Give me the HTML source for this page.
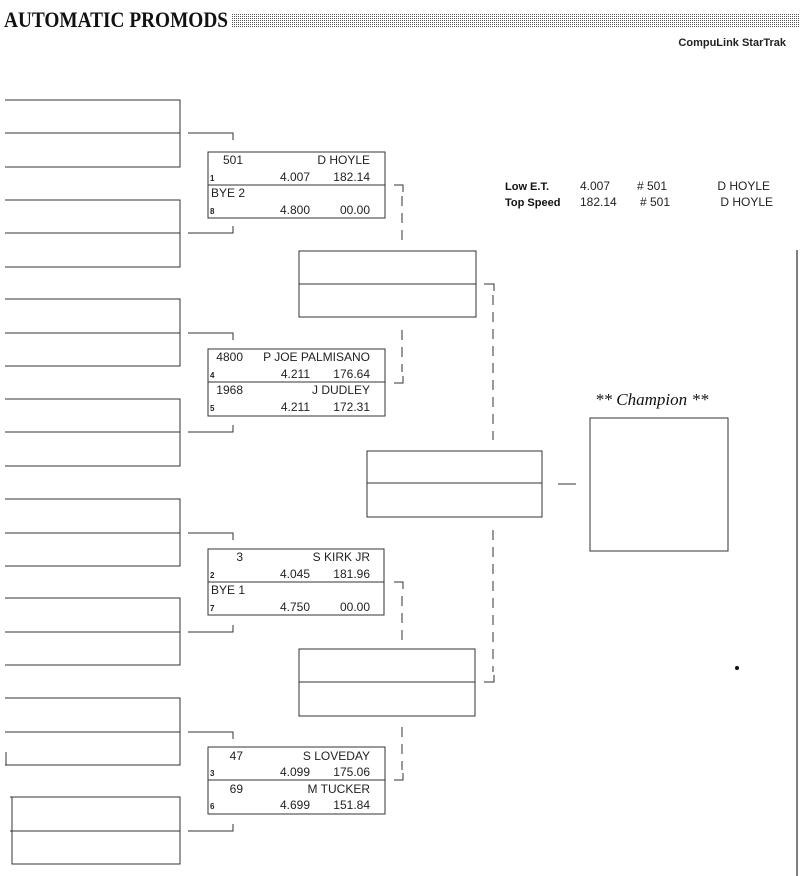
<!DOCTYPE html>
<html><head><meta charset="utf-8"><style>
html,body{margin:0;padding:0;background:#fff;}
svg{display:block;}
.m{font-family:"Liberation Sans",sans-serif;font-size:12px;fill:#222;}
.s{font-family:"Liberation Sans",sans-serif;font-size:8px;font-weight:bold;fill:#222;}
</style></head><body>
<svg width="800" height="876" viewBox="0 0 800 876" xmlns="http://www.w3.org/2000/svg">
<defs>
<pattern id="dots" width="2" height="2" patternUnits="userSpaceOnUse"><rect width="1" height="1" fill="#555"/></pattern>
</defs>
<text x="4" y="27" font-family="Liberation Serif,serif" font-weight="bold" font-size="22" textLength="224" lengthAdjust="spacingAndGlyphs" fill="#111">AUTOMATIC PROMODS</text>
<rect x="231" y="14" width="569" height="14" fill="url(#dots)"/>
<text x="786" y="46" text-anchor="end" font-family="Liberation Sans,sans-serif" font-weight="bold" font-size="11" fill="#222">CompuLink StarTrak</text>
<line x1="797" y1="250" x2="797" y2="876" stroke="#555" stroke-width="1.5"/>

<g stroke="#333" stroke-width="1" fill="none">
<path d="M5 100H180V167H5M5 133H180"/>
<path d="M5 200H180V267H5M5 233H180"/>
<path d="M5 299H180V366H5M5 333H180"/>
<path d="M5 399H180V466H5M5 432H180"/>
<path d="M5 499H180V566H5M5 533H180"/>
<path d="M5 598H180V665H5M5 632H180"/>
<path d="M5 698H180V765H5M5 732H180M6 752V765"/>
<path d="M10 797H180V864H12V797M10 831H180"/>
<path d="M188 133H233V140M188 233H233V226"/>
<path d="M188 333H233V340M188 432H233V425"/>
<path d="M188 533H233V540M188 632H233V625"/>
<path d="M188 732H233V739M188 831H233V824"/>
<rect x="208" y="152" width="177" height="66"/><line x1="208" y1="185" x2="385" y2="185"/>
<rect x="208" y="349" width="177" height="67"/><line x1="208" y1="382" x2="385" y2="382"/>
<rect x="208" y="549" width="176" height="66"/><line x1="208" y1="582" x2="384" y2="582"/>
<rect x="208" y="747" width="177" height="67"/><line x1="208" y1="780" x2="385" y2="780"/>
<rect x="299" y="251" width="177" height="66"/><line x1="299" y1="284" x2="476" y2="284"/>
<rect x="299" y="649" width="176" height="67"/><line x1="299" y1="682" x2="475" y2="682"/>
<rect x="367" y="451" width="175" height="66"/><line x1="367" y1="483" x2="542" y2="483"/>
<line x1="558" y1="484" x2="576" y2="484"/>
<rect x="590" y="418" width="138" height="133"/>
<path d="M394 185H403V192M394 383H403V376M394 582H403V589M394 780H403V773M484 284H494V291M484 682H494V675"/>
<g stroke-dasharray="10,7">
<path d="M402 196V242M402 330V372M402 596V640M402 727V770M493 295V440M493 530V672"/>
</g>
</g>

<text x="505" y="190" font-family="Liberation Sans,sans-serif" font-weight="bold" font-size="11" fill="#111">Low  E.T.</text>
<text x="505" y="206" font-family="Liberation Sans,sans-serif" font-weight="bold" font-size="11" fill="#111">Top Speed</text>
<g class="m">
<text x="580" y="190">4.007</text><text x="637" y="190"># 501</text><text x="770" y="190" text-anchor="end">D HOYLE</text>
<text x="580" y="206">182.14</text><text x="640" y="206"># 501</text><text x="773" y="206" text-anchor="end">D HOYLE</text>
</g>
<text x="595" y="405" font-family="Liberation Serif,serif" font-style="italic" font-size="17" fill="#111">** Champion **</text>

<g class="m">
<text x="243" y="164" text-anchor="end">501</text><text x="370" y="164" text-anchor="end">D HOYLE</text>
<text x="310" y="181" text-anchor="end">4.007</text><text x="370" y="181" text-anchor="end">182.14</text>
<text x="211" y="197">BYE 2</text>
<text x="310" y="214" text-anchor="end">4.800</text><text x="370" y="214" text-anchor="end">00.00</text>

<text x="243" y="361" text-anchor="end">4800</text><text x="370" y="361" text-anchor="end">P JOE PALMISANO</text>
<text x="310" y="378" text-anchor="end">4.211</text><text x="370" y="378" text-anchor="end">176.64</text>
<text x="243" y="394" text-anchor="end">1968</text><text x="370" y="394" text-anchor="end">J DUDLEY</text>
<text x="310" y="411" text-anchor="end">4.211</text><text x="370" y="411" text-anchor="end">172.31</text>

<text x="243" y="561" text-anchor="end">3</text><text x="370" y="561" text-anchor="end">S KIRK JR</text>
<text x="310" y="578" text-anchor="end">4.045</text><text x="370" y="578" text-anchor="end">181.96</text>
<text x="211" y="594">BYE 1</text>
<text x="310" y="611" text-anchor="end">4.750</text><text x="370" y="611" text-anchor="end">00.00</text>

<text x="243" y="760" text-anchor="end">47</text><text x="370" y="760" text-anchor="end">S LOVEDAY</text>
<text x="310" y="776" text-anchor="end">4.099</text><text x="370" y="776" text-anchor="end">175.06</text>
<text x="243" y="793" text-anchor="end">69</text><text x="370" y="793" text-anchor="end">M TUCKER</text>
<text x="310" y="809" text-anchor="end">4.699</text><text x="370" y="809" text-anchor="end">151.84</text>
</g>
<g class="s">
<text x="210" y="181">1</text><text x="210" y="214">8</text>
<text x="210" y="378">4</text><text x="210" y="411">5</text>
<text x="210" y="578">2</text><text x="210" y="611">7</text>
<text x="210" y="776">3</text><text x="210" y="809">6</text>
</g>
<circle cx="737" cy="668" r="2" fill="#111"/>
</svg>
</body></html>
